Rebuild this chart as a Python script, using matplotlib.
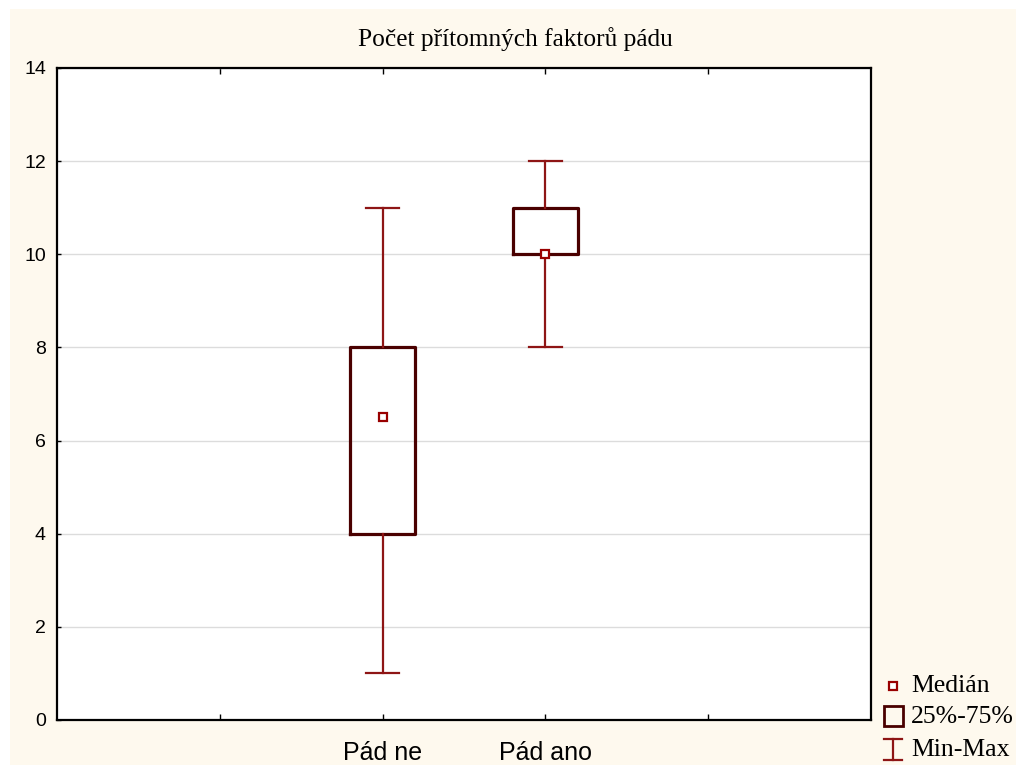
import matplotlib.pyplot as plt
from matplotlib.lines import Line2D
from matplotlib.patches import Rectangle

groups = ['Pád ne', 'Pád ano']
positions = [2, 3]
minimum = [1, 8]
q25 = [4, 10]
median = [6.5, 10]
q75 = [8, 11]
maximum = [11, 12]

title = 'Počet přítomných faktorů pádu'
legend_labels = ['Medián', '25%-75%', 'Min-Max']

box_col = '#4a0000'
whisk_col = '#8e1515'
med_col = '#990000'
cream = '#fef9ee'

W, H = 1016, 765
fig = plt.figure(figsize=(W / 100, H / 100), dpi=100)
fig.patch.set_facecolor('white')
fig.patches.append(Rectangle((10 / W, 0), 1 - 10 / W, 1 - 9 / H, transform=fig.transFigure,
                             facecolor=cream, edgecolor='none', zorder=-10))

ax = fig.add_axes([57 / W, 1 - 720 / H, (871 - 57) / W, (720 - 68) / H])
ax.set_facecolor('white')

stats = []
for i in range(len(groups)):
    stats.append(dict(label=groups[i], whislo=minimum[i], q1=q25[i], med=median[i],
                      q3=q75[i], whishi=maximum[i], fliers=[]))

ax.bxp(stats, positions=positions, widths=0.4, capwidths=0.2, showfliers=False,
       boxprops=dict(color=box_col, linewidth=2.3),
       whiskerprops=dict(color=whisk_col, linewidth=1.6),
       capprops=dict(color=whisk_col, linewidth=1.6),
       medianprops=dict(linestyle='none'), zorder=3)
ax.plot(positions, median, 's', markersize=6, markerfacecolor='white',
        markeredgecolor=med_col, markeredgewidth=1.6, linestyle='none', zorder=4)

ax.set_xlim(0, 5)
ax.set_ylim(0, 14)
ax.set_yticks(range(0, 15, 2))
ax.set_xticks([1, 2, 3, 4])
ax.set_xticklabels(['', groups[0], groups[1], ''])
ax.grid(axis='y', color='#dcdcdc', linewidth=1)
ax.set_axisbelow(True)
ax.tick_params(axis='x', direction='in', top=True, length=4, width=1, pad=15,
               labelsize=18)
ax.tick_params(axis='y', direction='in', length=3, width=1, pad=8, labelsize=14)
for lab in ax.get_xticklabels() + ax.get_yticklabels():
    lab.set_fontfamily('Liberation Sans')
for s in ax.spines.values():
    s.set_linewidth(1.6)

fig.text(515 / W, 1 - 39 / H, title, ha='center', va='center',
         fontsize=18.3, family='Liberation Serif')

# legend drawn by hand
tr = fig.transFigure
fig.add_artist(Line2D([893 / W], [1 - 686 / H], marker='s', markersize=6,
                      markerfacecolor='white', markeredgecolor=med_col,
                      markeredgewidth=1.6, transform=tr))
fig.add_artist(Rectangle((884 / W, 1 - 726 / H), 19 / W, 20 / H, transform=tr,
                         facecolor='none', edgecolor=box_col, linewidth=2))
fig.add_artist(Line2D([893 / W, 893 / W], [1 - 739 / H, 1 - 760 / H], color=whisk_col,
                      linewidth=1.6, transform=tr))
for yy in [739, 760]:
    fig.add_artist(Line2D([884 / W, 902 / W], [1 - yy / H, 1 - yy / H], color=whisk_col,
                          linewidth=1.6, transform=tr))
for lab, yy in zip(legend_labels, [686, 717, 750]):
    fig.text(911 / W, 1 - yy / H, lab, ha='left', va='center', fontsize=18.5,
             family='Liberation Serif')

fig.savefig('out.png', dpi=100, facecolor=fig.get_facecolor())
